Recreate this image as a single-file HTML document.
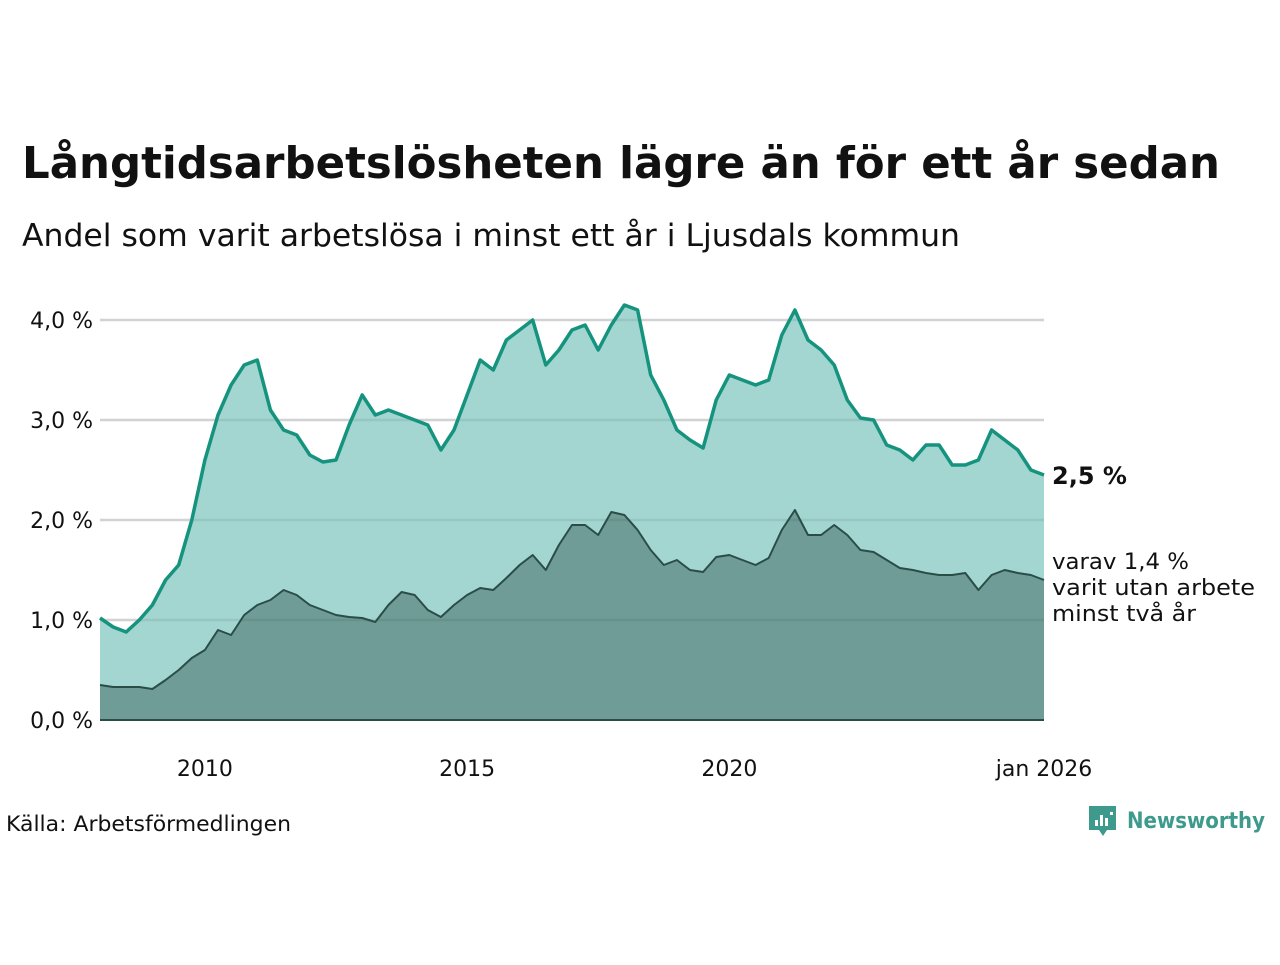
<!DOCTYPE html>
<html><head><meta charset="utf-8"><style>
body{margin:0;background:#fff;font-family:"Open Sans","Liberation Sans","DejaVu Sans",sans-serif;}
svg text{font-family:"DejaVu Sans","Liberation Sans",sans-serif;}
</style></head><body>
<svg width="1280" height="960" viewBox="0 0 1280 960">
<text x="22" y="178" font-size="44" font-weight="bold" fill="#111" textLength="1198" lengthAdjust="spacingAndGlyphs">Långtidsarbetslösheten lägre än för ett år sedan</text>
<text x="22" y="246" font-size="31" fill="#111" textLength="938" lengthAdjust="spacingAndGlyphs">Andel som varit arbetslösa i minst ett år i Ljusdals kommun</text>
<g id="grid"></g>
<g id="areas"></g>
<g id="ylabels"></g>
<g id="xlabels"></g>
<text x="1052" y="484" font-size="24" font-weight="bold" fill="#111">2,5 %</text>
<text font-size="22" fill="#111"><tspan x="1052" y="569" textLength="137" lengthAdjust="spacingAndGlyphs">varav 1,4 %</tspan><tspan x="1052" y="595" textLength="203" lengthAdjust="spacingAndGlyphs">varit utan arbete</tspan><tspan x="1052" y="621" textLength="144" lengthAdjust="spacingAndGlyphs">minst två år</tspan></text>
<text x="6" y="831" font-size="21" fill="#111" textLength="285" lengthAdjust="spacingAndGlyphs">Källa: Arbetsförmedlingen</text>
<g>
<path d="M1089 806h27v24h-9l-4 6-4-6h-10z" fill="#3d9a8c"/>
<rect x="1095" y="820" width="3" height="6" fill="#fff"/><rect x="1100" y="815" width="3" height="11" fill="#fff"/><rect x="1105" y="818" width="3" height="8" fill="#fff"/><rect x="1110" y="812" width="3" height="3" fill="#fff"/>
<text x="1127" y="828" font-size="22" font-weight="bold" fill="#3d9a8c" textLength="138" lengthAdjust="spacingAndGlyphs">Newsworthy</text>
</g>
</svg>
<script>
const total=[1.02,0.93,0.88,1.0,1.15,1.4,1.55,2.0,2.6,3.05,3.35,3.55,3.6,3.1,2.9,2.85,2.65,2.58,2.6,2.95,3.25,3.05,3.1,3.05,3.0,2.95,2.7,2.9,3.25,3.6,3.5,3.8,3.9,4.0,3.55,3.7,3.9,3.95,3.7,3.95,4.15,4.1,3.45,3.2,2.9,2.8,2.72,3.2,3.45,3.4,3.35,3.4,3.85,4.1,3.8,3.7,3.55,3.2,3.02,3.0,2.75,2.7,2.6,2.75,2.75,2.55,2.55,2.6,2.9,2.8,2.7,2.5,2.45];
const twoYears=[0.35,0.33,0.33,0.33,0.31,0.4,0.5,0.62,0.7,0.9,0.85,1.05,1.15,1.2,1.3,1.25,1.15,1.1,1.05,1.03,1.02,0.98,1.15,1.28,1.25,1.1,1.03,1.15,1.25,1.32,1.3,1.42,1.55,1.65,1.5,1.75,1.95,1.95,1.85,2.08,2.05,1.9,1.7,1.55,1.6,1.5,1.48,1.63,1.65,1.6,1.55,1.62,1.9,2.1,1.85,1.85,1.95,1.85,1.7,1.68,1.6,1.52,1.5,1.47,1.45,1.45,1.47,1.3,1.45,1.5,1.47,1.45,1.4];
const yTicks=[0,1,2,3,4];
const yTickLabels=["0,0 %","1,0 %","2,0 %","3,0 %","4,0 %"];
const xTicks=[2010,2015,2020,2026];
const xTickLabels=["2010","2015","2020","jan 2026"];
const startYear=2008,endYear=2026;
const NS="http://www.w3.org/2000/svg";
const x0=100,x1=1044,yBase=720,yPer=100;
const xs=t=>x0+(t-startYear)/(endYear-startYear)*(x1-x0);
const xi=i=>xs(startYear+i/4);
const ys=v=>yBase-v*yPer;
function mk(tag,attrs,parent){const e=document.createElementNS(NS,tag);for(const k in attrs)e.setAttribute(k,attrs[k]);document.getElementById(parent).appendChild(e);return e;}
yTicks.forEach((v,i)=>{
 if(v>0){const l=mk('line',{x1:x0,x2:x1,y1:ys(v),y2:ys(v),stroke:'#e2e2e6','stroke-width':2.5},'grid');
 
 }
 const t=mk('text',{x:93,y:ys(v)+8,'font-size':22,'text-anchor':'end',fill:'#111'},'ylabels');t.textContent=yTickLabels[i];
 
 
});
xTicks.forEach((v,i)=>{
 const t=mk('text',{x:xs(v),y:776,'font-size':22,'text-anchor':'middle',fill:'#111'},'xlabels');t.textContent=xTickLabels[i];
 
 
});
function line(arr){return arr.map((v,i)=>(i?'L':'M')+xi(i).toFixed(1)+' '+ys(v).toFixed(1)).join('');}
function area(arr){return line(arr)+'L'+xi(arr.length-1)+' '+yBase+'L'+x0+' '+yBase+'Z';}
let a=mk('path',{d:area(total),fill:'#a3d6d1'},'areas');


a=mk('path',{d:area(twoYears),fill:'#6f9c96'},'areas');


yTicks.forEach(v=>{if(v>0){const l=mk('line',{x1:x0,x2:x1,y1:ys(v),y2:ys(v),stroke:'rgba(0,0,0,0.07)','stroke-width':2.5},'areas');
 
 }});
a=mk('path',{d:line(total),fill:'none',stroke:'#16937f','stroke-width':3.5,'stroke-linejoin':'round'},'areas');


a=mk('path',{d:line(twoYears),fill:'none',stroke:'#2a4d48','stroke-width':2,'stroke-linejoin':'round'},'areas');


a=mk('line',{x1:x0,x2:x1,y1:yBase,y2:yBase,stroke:'#2a4d48','stroke-width':2},'areas');


</script>
</body></html>
